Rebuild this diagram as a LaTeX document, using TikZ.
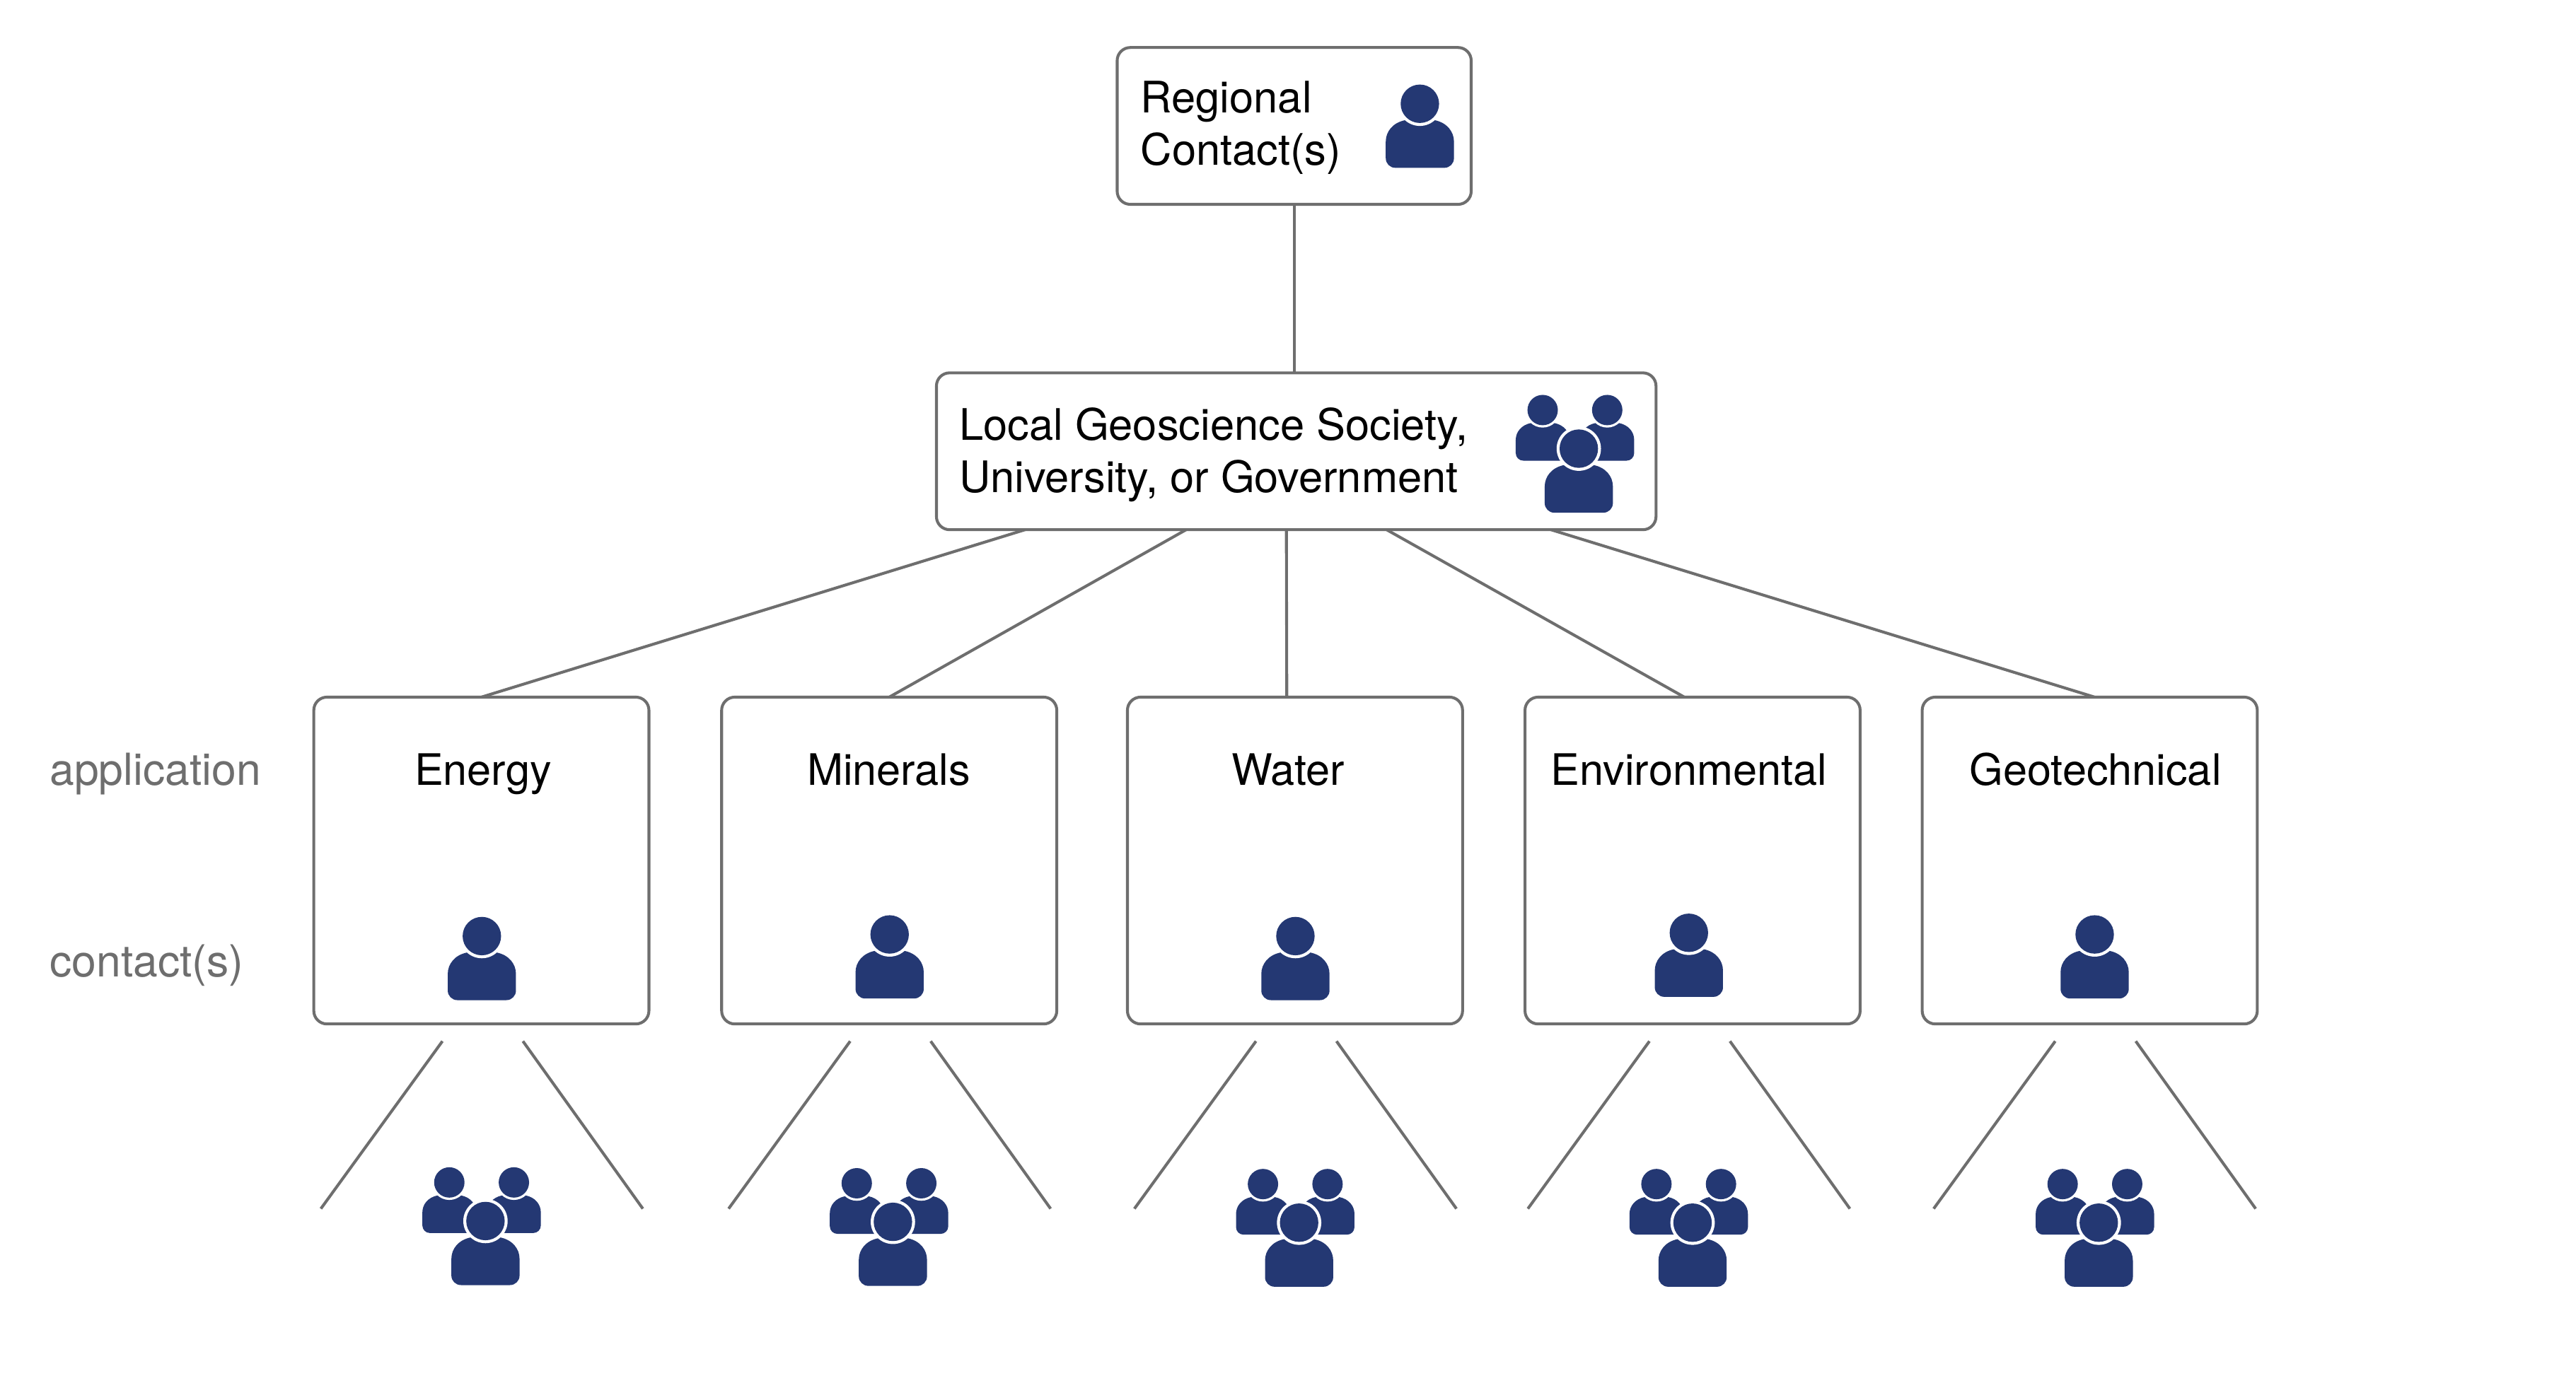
\documentclass[tikz,border=0pt]{standalone}
\usepackage{fontspec}
\setmainfont{TeX Gyre Heros}
\usepackage{xcolor}
\usetikzlibrary{positioning,calc}
\definecolor{navy}{HTML}{243873}
\definecolor{linegray}{HTML}{6E6E6E}
\tikzset{mybox/.style={draw=linegray,line width=1pt,rounded corners=.16cm,fill=white,inner sep=0pt,outer sep=0pt},
smallbox/.style={mybox,minimum width=4.08cm,minimum height=3.98cm},
toptext/.style={align=left,inner sep=0pt,font=\fontsize{15.05}{18.1}\selectfont},
apptext/.style={anchor=base,inner sep=0pt,font=\fontsize{15}{18.1}\selectfont},
sidetext/.style={anchor=base west,inner sep=0pt,text=linegray,font=\fontsize{15.3}{18.1}\selectfont},
link/.style={draw=linegray,line width=1pt},
pics/person/.style={code={
\fill[navy] (-.18,-.2) .. controls (-.33,-.23) and (-.415,-.34) .. (-.415,-.46)
 -- (-.415,-.664) arc[start angle=180,end angle=270,radius=.116] -- (.299,-.78)
 arc[start angle=270,end angle=360,radius=.116] -- (.415,-.46)
 .. controls (.415,-.34) and (.33,-.23) .. (.18,-.2) -- cycle;
\fill[white] (0,0) circle (.27);
\fill[navy] (0,0) circle (.234);}},
pics/crowd/.style={code={
\pic[scale=.79] at (-.44,.47) {person};
\pic[scale=.79] at (.346,.47) {person};
\pic at (0,0) {person};}},
pics/fan/.style={code={
\draw[link] (-.48,-.21) -- (-1.96,-2.25);
\draw[link] (.5,-.21) -- (1.96,-2.25);}}}
\begin{document}
\begin{tikzpicture}
\useasboundingbox (0,0) rectangle (31.36,16.834);
% top two levels
\node[mybox,minimum width=4.31cm,minimum height=1.91cm] (regional) at (15.755,15.3){};
\node[mybox,minimum width=8.76cm,minimum height=1.91cm] (local) at (15.78,11.338){};
\node[toptext,right=.28cm of regional.west,yshift=-.02cm] (regionaltext){Regional\\Contact(s)};
\node[toptext,right=.27cm of local.west,yshift=-.04cm] (localtext){Local Geoscience Society,\\University, or Government};
\pic at (17.285,15.57) {person};
\pic at (19.22,11.37) {crowd};
% application boxes
\node[smallbox] (energy) at (5.86,6.354){};
\node[smallbox] (minerals) at (10.825,6.354){};
\node[smallbox] (water) at (15.765,6.354){};
\node[smallbox] (environmental) at (20.605,6.354){};
\node[smallbox] (geotechnical) at (25.44,6.354){};
\node[apptext] (energytext) at (5.88,7.274){Energy};
\node[apptext] (mineralstext) at (10.82,7.274){Minerals};
\node[apptext] (watertext) at (15.68,7.274){Water};
\node[apptext] (environmentaltext) at (20.56,7.274){Environmental};
\node[apptext] (geotechnicaltext) at (25.51,7.274){Geotechnical};
\node[sidetext] (application) at (.6,7.274){application};
\node[sidetext] (contact) at (.6,4.934){contact(s)};
% connectors
\draw[link] (regional.south) -- (regional.south |- local.north);
\draw[link] ($(local.south west)+(1.08,0)$) -- (energy.north);
\draw[link] ($(local.south west)+(3.04,0)$) -- (minerals.north);
\draw[link] ($(local.south west)+(4.26,0)$) -- ($(water.north)+(-.1,0)$);
\draw[link] ($(local.south west)+(5.48,0)$) -- ($(environmental.north)+(-.1,0)$);
\draw[link] ($(local.south west)+(7.48,0)$) -- ($(geotechnical.north)+(.06,0)$);
% people in the boxes
\coordinate (energyc) at (5.866,5.434);
\coordinate (mineralsc) at (10.83,5.454);
\coordinate (waterc) at (15.77,5.434);
\coordinate (environmentalc) at (20.56,5.474);
\coordinate (geotechnicalc) at (25.5,5.454);
\pic at (energyc) {person};
\pic at (mineralsc) {person};
\pic at (waterc) {person};
\pic at (environmentalc) {person};
\pic at (geotechnicalc) {person};
% fans and the groups under them
\pic at (energyc |- energy.south) {fan};
\pic at (mineralsc |- minerals.south) {fan};
\pic at (waterc |- water.south) {fan};
\pic at (environmentalc |- environmental.south) {fan};
\pic at (geotechnicalc |- geotechnical.south) {fan};
\pic at (5.91,1.964) {crowd};
\pic at (10.87,1.954) {crowd};
\pic at (15.815,1.944) {crowd};
\pic at (20.605,1.944) {crowd};
\pic at (25.55,1.944) {crowd};
\end{tikzpicture}
\end{document}
